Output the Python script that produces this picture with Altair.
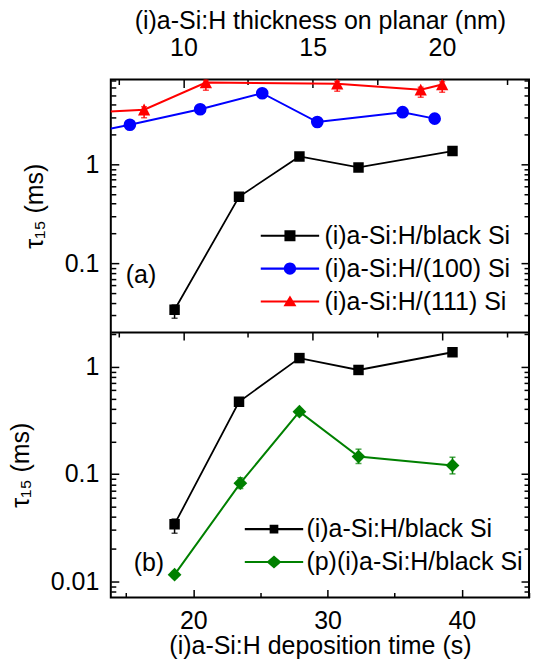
import altair as alt
import pandas as pd

FONT = "Liberation Sans"
FS = 25

# ---------------- data ----------------
name_black = "(i)a-Si:H/black Si"
name_100 = "(i)a-Si:H/(100) Si"
name_111 = "(i)a-Si:H/(111) Si"
name_p = "(p)(i)a-Si:H/black Si"

# deposition time (s) -> tau15 (ms), black Si
time_black = [18.6, 23.4, 27.9, 32.3, 39.3]
tau_black = [0.034, 0.47, 1.20, 0.93, 1.36]
lo_black = [0.028, 0.455, 1.17, 0.905, 1.33]
hi_black = [0.038, 0.485, 1.23, 0.955, 1.39]

# (p)(i) stack on black Si
time_p = [18.6, 23.5, 27.9, 32.3, 39.3]
tau_p = [0.0115, 0.082, 0.38, 0.145, 0.12]
lo_p = [0.0108, 0.073, 0.355, 0.125, 0.100]
hi_p = [0.0123, 0.092, 0.405, 0.170, 0.143]

# planar references, thickness (nm) -> tau15 (ms)
nm_100 = [6.5, 7.93, 10.65, 13.05, 15.18, 18.48, 19.72]
tau_100 = [2.10, 2.51, 3.60, 5.22, 2.67, 3.36, 2.89]

nm_111 = [6.5, 8.48, 10.87, 15.95, 19.18, 20.01]
tau_111 = [3.35, 3.56, 6.70, 6.50, 5.65, 6.39]
lo_111 = [3.05, 2.95, 5.6, 5.45, 4.75, 5.35]
hi_111 = [3.55, 3.8, 7.1, 6.9, 6.0, 6.8]

# growth rate linking the top (nm) axis to the bottom (s) axis
RATE = 0.5193  # nm per second

# panel tags
tag_a = ["(a)"]
tag_a_x = [14.96]
tag_a_y = [0.0762]
tag_b = ["(b)"]
tag_b_x = [15.55]
tag_b_y = [0.0149]

# axis domains and ticks
time_dom = [13.85, 45.0]
ya_dom = [0.0203, 7.18]
yb_dom = [0.00705, 2.10]

time_major = [20, 30, 40]
time_minor = [15, 25, 35, 45]
nm_major = [10, 15, 20]
nm_minor = [7.5, 12.5, 17.5, 22.5]
ya_major = [0.1, 1]
ya_minor = [0.03, 0.04, 0.05, 0.06, 0.07, 0.08, 0.09,
            0.2, 0.3, 0.4, 0.5, 0.6, 0.7, 0.8, 0.9,
            2, 3, 4, 5, 6, 7]
yb_major = [0.01, 0.1, 1]
yb_minor = [0.008, 0.009,
            0.02, 0.03, 0.04, 0.05, 0.06, 0.07, 0.08, 0.09,
            0.2, 0.3, 0.4, 0.5, 0.6, 0.7, 0.8, 0.9, 2]

Y_TITLE = "τ₁₅ (ms)"

# ---------------- layout ----------------
W = 419
HA = 253           # panel (a) height
HB = 266           # panel (b) height
RA = [HA, 0]       # pixel range of panel (a)
RB = [HA + HB, HA]  # pixel range of panel (b)

AX = dict(grid=False, tickColor="black", tickWidth=1.5,
          labelFont=FONT, labelFontSize=FS, labelColor="black",
          titleFont=FONT, titleFontSize=FS, titleFontWeight="normal",
          titleColor="black")


def xsc(field, axis=None):
    return alt.X(f"{field}:Q", scale=alt.Scale(domain=time_dom, nice=False, zero=False),
                 axis=axis)


def ysc(field, dom, rng, axis=None):
    return alt.Y(f"{field}:Q",
                 scale=alt.Scale(type="log", domain=dom, range=rng, nice=False),
                 axis=axis)


def x_axis_layer(vals, **kw):
    kw.setdefault("domain", False)
    df = pd.DataFrame({"v": vals})
    return alt.Chart(df).mark_point(opacity=0).encode(
        x=xsc("v", alt.Axis(values=vals, **AX, **kw)))


def y_axis_layer(vals, dom, rng, **kw):
    df = pd.DataFrame({"v": vals})
    return alt.Chart(df).mark_point(opacity=0).encode(
        y=ysc("v", dom, rng, alt.Axis(values=vals, domain=False, **AX, **kw)))


def frame_axes_y(major, minor, dom, rng, left_labels):
    return [
        y_axis_layer(major, dom, rng, orient="left", format="~g",
                     tickSize=8, offset=-8, **left_labels),
        y_axis_layer(minor, dom, rng, orient="left", labels=False,
                     tickSize=5, offset=-5, title=None),
        y_axis_layer(major, dom, rng, orient="right", labels=False,
                     tickSize=8, offset=-8, title=None),
        y_axis_layer(minor, dom, rng, orient="right", labels=False,
                     tickSize=5, offset=-5, title=None),
    ]


def series_layers(xv, yv, dom, rng, color, shape, size, lo=None, hi=None, sw=2):
    d = {"x": xv, "y": yv}
    if lo is not None:
        d["lo"] = lo
        d["hi"] = hi
    base = alt.Chart(pd.DataFrame(d))
    out = []
    if lo is not None:
        out.append(base.mark_rule(color=color, strokeWidth=1.5, clip=True).encode(
            x=xsc("x"), y=ysc("lo", dom, rng), y2=alt.Y2("hi:Q")))
        for f in ("lo", "hi"):
            out.append(base.mark_tick(color=color, orient="horizontal", size=6,
                                      thickness=1.5, clip=True).encode(
                x=xsc("x"), y=ysc(f, dom, rng)))
    out.append(base.mark_line(color=color, strokeWidth=sw, clip=True).encode(
        x=xsc("x"), y=ysc("y", dom, rng)))
    out.append(base.mark_point(shape=shape, size=size, filled=True, color=color,
                               opacity=1, clip=True).encode(
        x=xsc("x"), y=ysc("y", dom, rng)))
    return out


def legend_paths(marker, m):
    line = "M-4.5,-0.16H-0.3V0.16H-4.5Z M0.3,-0.16H4.5V0.16H0.3Z "
    if marker == "square":
        mk = f"M-{m},-{m}H{m}V{m}H-{m}Z"
    elif marker == "circle":
        mk = f"M-{m},0A{m},{m} 0 1,1 {m},0A{m},{m} 0 1,1 -{m},0Z"
    elif marker == "triangle":
        mk = f"M0,-{m}L{m * 1.05:.2f},{m * 0.75:.2f}L-{m * 1.05:.2f},{m * 0.75:.2f}Z"
    else:  # diamond
        mk = f"M0,-{m}L{m * 1.15:.2f},0L0,{m}L-{m * 1.15:.2f},0Z"
    return line + mk


def legend_layer(names, colors, paths, lx, ly, loff):
    leg = alt.Legend(orient="none", legendX=lx, legendY=ly, title=None,
                     labelFont=FONT, labelFontSize=FS, labelColor="black",
                     labelLimit=500, labelOffset=loff, symbolSize=169,
                     symbolStrokeWidth=0, symbolOpacity=1, rowPadding=7, padding=0)
    df = pd.DataFrame({"series": names})
    return alt.Chart(df).mark_point(filled=True, opacity=0).encode(
        color=alt.Color("series:N", scale=alt.Scale(domain=names, range=colors), legend=leg),
        shape=alt.Shape("series:N", scale=alt.Scale(domain=names, range=paths), legend=leg),
    )


def tag_layer(txt, xv, yv, dom, rng):
    df = pd.DataFrame({"x": xv, "y": yv, "t": txt})
    return alt.Chart(df).mark_text(align="left", baseline="middle", font=FONT,
                                   fontSize=FS, color="black").encode(
        x=xsc("x"), y=ysc("y", dom, rng), text="t:N")


TRI = "M0,-1L1,0.95L-1,0.95Z"
NM_LABEL = f"format(datum.value * {RATE}, '.0f')"

nm_major_t = [v / RATE for v in nm_major]
nm_minor_t = [v / RATE for v in nm_minor]
t_100 = [v / RATE for v in nm_100]
t_111 = [v / RATE for v in nm_111]

layers = [
    # top (nm) axis of panel (a)
    x_axis_layer(nm_major_t, orient="top", labelExpr=NM_LABEL, tickSize=8, offset=-8,
                 labelPadding=19, title="(i)a-Si:H thickness on planar (nm)",
                 titlePadding=2),
    x_axis_layer(nm_minor_t, orient="top", labels=False, tickSize=5, offset=-5, title=None),
    # inner ticks on the bottom edge of panel (a)
    x_axis_layer(nm_major_t, orient="top", labels=False, tickSize=8, offset=-(HA + 8),
                 title=None),
    x_axis_layer(nm_minor_t, orient="top", labels=False, tickSize=5, offset=-(HA + 5),
                 title=None),
    # dividing line between the panels
    x_axis_layer(time_major, orient="top", labels=False, ticks=False, offset=-HA,
                 title=None, domain=True, domainColor="black", domainWidth=2),
    # bottom (time) axis of panel (b)
    x_axis_layer(time_major, orient="bottom", format="d",
                 tickSize=8, offset=-8, labelPadding=11,
                 title="(i)a-Si:H deposition time (s)", titlePadding=0),
    x_axis_layer(time_minor, orient="bottom", labels=False,
                 tickSize=5, offset=-5, title=None),
]
layers += frame_axes_y(ya_major, ya_minor, ya_dom, RA,
                       dict(labelPadding=12, title=Y_TITLE, titlePadding=17))
layers += frame_axes_y(yb_major, yb_minor, yb_dom, RB,
                       dict(labelPadding=12, title=Y_TITLE, titlePadding=17))

# panel (a) data
layers += series_layers(t_111, tau_111, ya_dom, RA, "#ff0000", TRI, 150, lo_111, hi_111)
layers += series_layers(t_100, tau_100, ya_dom, RA, "#0000ff", "circle", 160)
layers += series_layers(time_black, tau_black, ya_dom, RA, "#000000", "square", 110,
                        lo_black, hi_black, sw=1.8)
layers.append(tag_layer(tag_a, tag_a_x, tag_a_y, ya_dom, RA))

# panel (b) data
layers += series_layers(time_black, tau_black, yb_dom, RB, "#000000", "square", 110,
                        lo_black, hi_black, sw=1.8)
layers += series_layers(time_p, tau_p, yb_dom, RB, "#008000", "diamond", 190, lo_p, hi_p)
layers.append(tag_layer(tag_b, tag_b_x, tag_b_y, yb_dom, RB))

# legends
layers.append(legend_layer(
    [name_black, name_100, name_111], ["#000000", "#0000ff", "#ff0000"],
    [legend_paths("square", 0.85), legend_paths("circle", 0.95),
     legend_paths("triangle", 0.95)],
    167, 144, 22))
layers.append(legend_layer(
    [name_black + " ", name_p], ["#000000", "#008000"],
    [legend_paths("square", 0.67), legend_paths("diamond", 1.0)],
    151, HA + 185, 20))

chart = alt.layer(*layers).resolve_scale(
    y="independent", color="independent", shape="independent"
).resolve_axis(x="independent", y="independent").resolve_legend(
    color="independent", shape="independent"
).properties(width=W, height=HA + HB, padding=0).configure_view(
    stroke="black", strokeWidth=2)

chart.save("out.html", embed_options={"renderer": "svg", "actions": False})
